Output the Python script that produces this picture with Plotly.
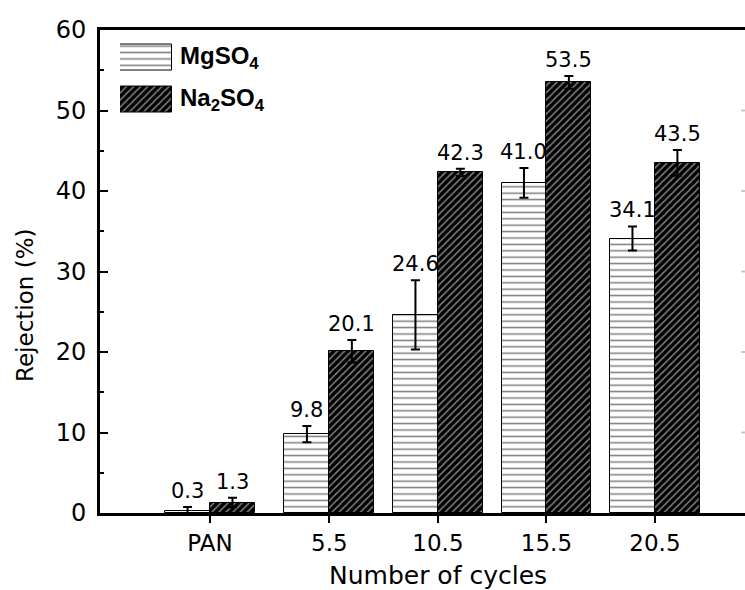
import plotly.graph_objects as go

# ---------------- data ----------------
categories = ["PAN", "5.5", "10.5", "15.5", "20.5"]
cycle_pos = [0, 5.5, 10.5, 15.5, 20.5]
mgso4 = [0.3, 9.8, 24.6, 41.0, 34.1]
mgso4_err = [0.45, 1.0, 4.3, 1.85, 1.5]
na2so4 = [1.3, 20.1, 42.3, 53.5, 43.5]
na2so4_err = [0.6, 1.4, 0.45, 0.8, 1.6]
y_tick_vals = [0, 10, 20, 30, 40, 50, 60]
right_tick_vals = [10, 20, 30, 40, 50]
series_names = ["MgSO<sub>4</sub>", "Na<sub>2</sub>SO<sub>4</sub>"]

# ---------------- style ----------------
BW = 2.07
FONT = "DejaVu Sans"
mg_marker = dict(color="white", line=dict(color="black", width=1),
                 pattern=dict(shape="-", fgcolor="black", bgcolor="white",
                              size=6.4, solidity=0.24))
na_marker = dict(color="black", line=dict(color="black", width=1),
                 pattern=dict(shape="/", fgcolor="white", bgcolor="black",
                              size=5, solidity=0.3))

fig = go.Figure()
fig.add_trace(go.Bar(x=cycle_pos, y=mgso4, width=BW, offset=-BW, marker=mg_marker,
                     error_y=dict(type="data", array=mgso4_err, color="black",
                                  thickness=2, width=4.5),
                     showlegend=False))
fig.add_trace(go.Bar(x=cycle_pos, y=na2so4, width=BW, offset=0, marker=na_marker,
                     error_y=dict(type="data", array=na2so4_err, color="black",
                                  thickness=2, width=4.5),
                     showlegend=False))

# legend swatches drawn as bars on a small auxiliary axis
fig.add_trace(go.Bar(x=[1], y=[0], orientation="h", width=0.62, marker=mg_marker,
                     xaxis="x2", yaxis="y2", showlegend=False, hoverinfo="skip"))
fig.add_trace(go.Bar(x=[1], y=[1], orientation="h", width=0.62, marker=na_marker,
                     xaxis="x2", yaxis="y2", showlegend=False, hoverinfo="skip"))

annotations = []
# value labels above error bars
for xs, vals, errs, off in [(cycle_pos, mgso4, mgso4_err, -BW / 2),
                            (cycle_pos, na2so4, na2so4_err, BW / 2)]:
    for x, v, e in zip(xs, vals, errs):
        annotations.append(dict(x=x + off, y=v + e, xref="x", yref="y",
                                text=f"{v:.1f}", showarrow=False,
                                xanchor="center", yanchor="bottom", yshift=2,
                                font=dict(family=FONT, size=21, color="black")))
# legend text
for name, ypos in zip(series_names, [0.943, 0.856]):
    annotations.append(dict(x=(178 - 100) / 645, y=ypos, xref="paper", yref="paper",
                            text=f"<b>{name}</b>", showarrow=False,
                            xanchor="left", yanchor="middle",
                            font=dict(family="Liberation Sans", size=24, color="black")))
# axis titles
annotations.append(dict(x=(438 - 100) / 645, y=-0.129, xref="paper", yref="paper",
                        text="Number of cycles", showarrow=False,
                        xanchor="center", yanchor="middle",
                        font=dict(family=FONT, size=25, color="black")))
annotations.append(dict(x=(25 - 100) / 645, y=0.4286, xref="paper", yref="paper",
                        text="Rejection (%)", textangle=-90, showarrow=False,
                        xanchor="center", yanchor="middle",
                        font=dict(family=FONT, size=23, color="black")))

shapes = []
for v in right_tick_vals:
    shapes.append(dict(type="line", xref="paper", yref="y", x0=0.994, x1=1.0,
                       y0=v, y1=v, line=dict(color="#c8c8c8", width=2)))

fig.update_layout(
    width=745, height=590,
    margin=dict(l=100, r=0, t=30, b=77),
    paper_bgcolor="white", plot_bgcolor="white",
    barmode="overlay", bargap=0,
    showlegend=False,
    font=dict(family=FONT, color="black"),
    xaxis=dict(range=[-5.07, 24.65], tickvals=cycle_pos, ticktext=categories,
               ticks="outside", ticklen=7, tickwidth=2, tickcolor="black",
               showline=True, linewidth=3, linecolor="black", mirror=True,
               showgrid=False, zeroline=False,
               tickfont=dict(family=FONT, size=23, color="black")),
    yaxis=dict(range=[0, 60], tickvals=y_tick_vals,
               ticks="inside", ticklen=8, tickwidth=2, tickcolor="black",
               minor=dict(ticks="inside", ticklen=4, tickwidth=2, dtick=5,
                          tickcolor="black", showgrid=False),
               showline=True, linewidth=3, linecolor="black",
               showgrid=False, zeroline=False, ticklabelstandoff=6,
               tickfont=dict(family=FONT, size=24, color="black")),
    xaxis2=dict(domain=[(120 - 100) / 645, (172 - 100) / 645], range=[0, 1],
                anchor="y2", visible=False, fixedrange=True),
    yaxis2=dict(domain=[0.8126, 0.9865], range=[1.5, -0.5], anchor="x2",
                visible=False, fixedrange=True),
    annotations=annotations,
    shapes=shapes,
)

fig.write_html("out.html",
               config={"displayModeBar": False},
               post_script="document.body.style.margin='0';"
                           "document.body.style.overflow='hidden';")
